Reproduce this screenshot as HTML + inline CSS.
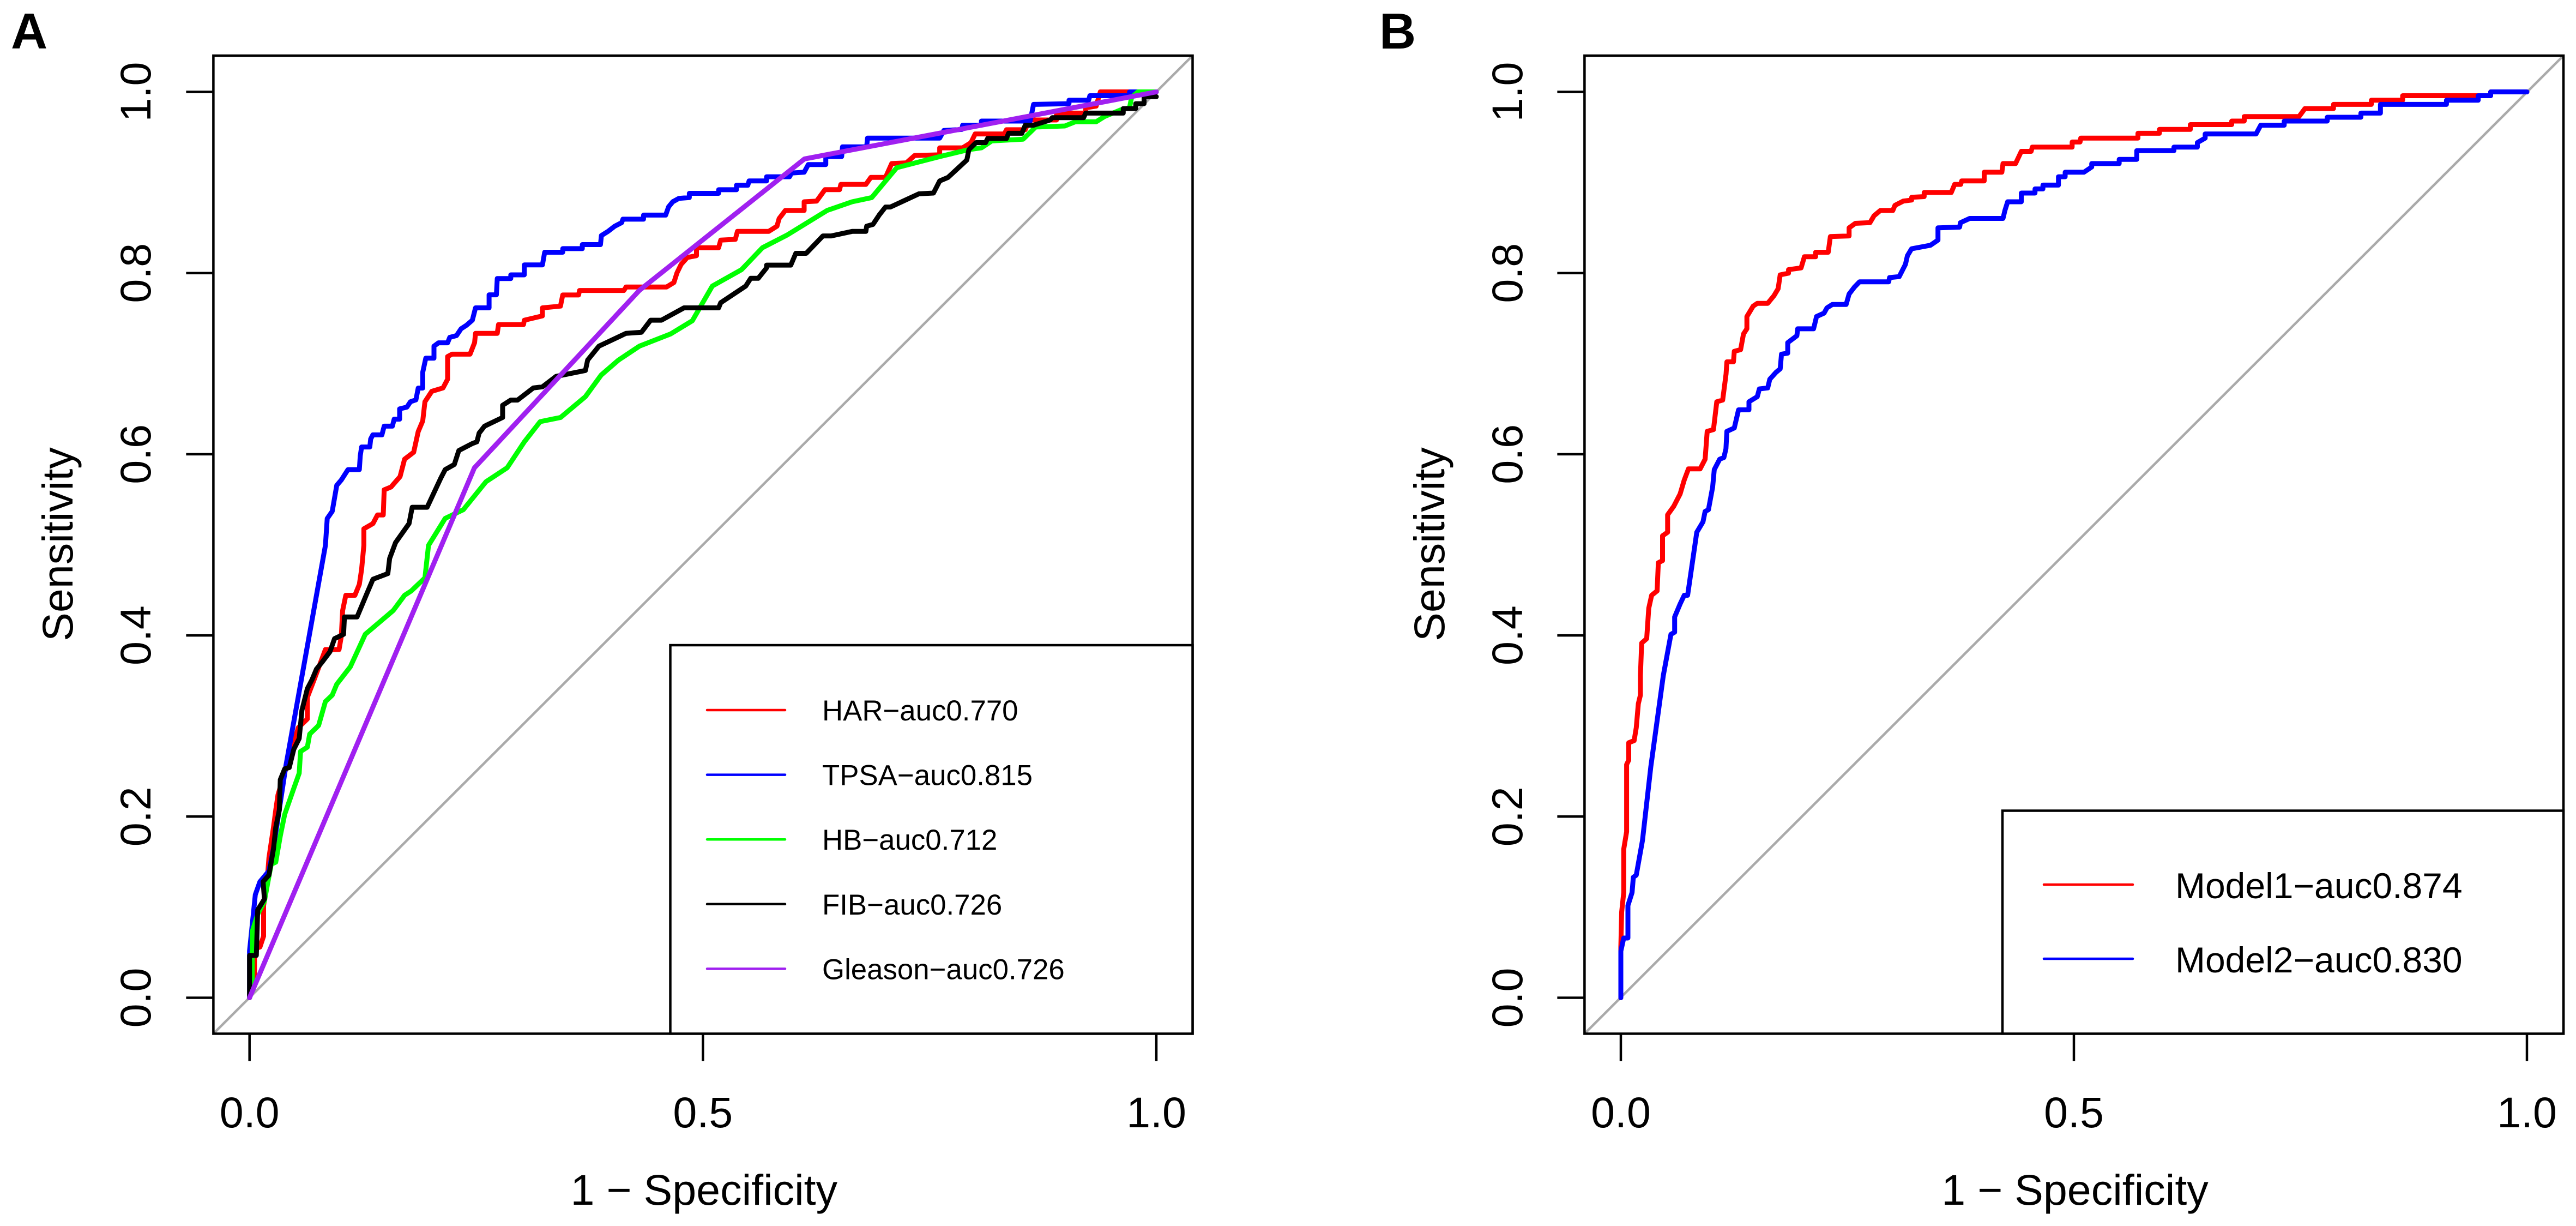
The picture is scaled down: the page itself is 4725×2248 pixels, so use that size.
<!DOCTYPE html>
<html lang="en">
<head>
<meta charset="utf-8">
<title>ROC curves</title>
<style>
html,body{margin:0;padding:0;background:#fff;}
svg{display:block;font-family:"Liberation Sans",Arial,sans-serif;}
</style>
</head>
<body>
<svg id="chart" xmlns="http://www.w3.org/2000/svg" width="4725" height="2248" viewBox="0 0 4725 2248">
<rect x="0" y="0" width="4725" height="2248" fill="#fff"/>
</svg>
<script>
const xTicks = [0, 0.5, 1];
const xTickLabels = ['0.0', '0.5', '1.0'];
const yTicks = [0, 0.2, 0.4, 0.6, 0.8, 1];
const yTickLabels = ['0.0', '0.2', '0.4', '0.6', '0.8', '1.0'];

const harFpr = [0,.0055,.0055,.0115,.0155,.0155,.019,.0214,.0264,.0289,.0314,.0538,.0638,.0638,.0712,.0837,.0987,.1012,.1027,.1062,.1162,.1211,.1236,.1261,.1261,.1361,.1411,.1475,.1485,.156,.166,.171,.181,.186,.191,.1934,.2009,.2134,.2184,.2184,.2233,.2432,.2482,.2492,.2732,.2746,.3021,.3031,.323,.323,.3429,.3454,.3629,.3639,.4128,.4152,.4598,.468,.4713,.4759,.4828,.4929,.4929,.5173,.5196,.5357,.538,.5725,.5817,.584,.5909,.6116,.6116,.6254,.6346,.6507,.6521,.6797,.6852,.7013,.7082,.7243,.7335,.7611,.7611,.7864,.7956,.8002,.8324,.8347,.8554,.86,.89,.8899,.9221,.9221,.9336,.9382,1];
const harTpr = [0,.0204,.054,.056,.068,.1018,.1234,.1545,.188,.2072,.224,.2982,.3078,.3317,.351,.3844,.3844,.3988,.4275,.4443,.4443,.4563,.473,.4994,.5177,.5235,.533,.533,.5607,.5638,.5753,.5945,.6022,.625,.6368,.6579,.6694,.6732,.6828,.7078,.7105,.7105,.7232,.7335,.7335,.7431,.7431,.748,.7527,.7616,.7635,.7758,.7758,.7808,.7808,.7846,.7846,.7896,.8,.8096,.8172,.8192,.828,.828,.8364,.8372,.846,.846,.8518,.8602,.8691,.8691,.8787,.8795,.8921,.8921,.8979,.8979,.9056,.9056,.9209,.9217,.9298,.9305,.9382,.9382,.944,.9536,.9536,.9582,.9582,.969,.969,.9766,.9766,.9824,.9843,1,1];

const tpsaFpr = [0,0,.0064,.0114,.0214,.0264,.0399,.0837,.0857,.0912,.0962,.1012,.1086,.1211,.1221,.1236,.1326,.1336,.136,.146,.1485,.1575,.1595,.1655,.1655,.1735,.1775,.1835,.186,.191,.191,.1944,.2034,.2034,.2084,.2184,.2208,.2283,.2333,.2393,.2457,.2492,.2642,.2642,.2722,.2732,.2881,.2881,.303,.303,.323,.3255,.3454,.3454,.367,.367,.387,.388,.3953,.4028,.4103,.4118,.4345,.4345,.4589,.4621,.4667,.4736,.485,.485,.5173,.5173,.537,.537,.5495,.5509,.5702,.5702,.5955,.5978,.6116,.6162,.6355,.6355,.653,.6539,.6806,.6815,.7611,.7657,.7855,.7864,.8071,.8071,.8609,.8646,.9037,.9037,.9253,.9267,.9704,.9704,1];
const tpsaTpr = [0,.0515,.1138,.128,.14,.165,.255,.4994,.529,.537,.5657,.5715,.583,.583,.5984,.608,.608,.6168,.6214,.6214,.631,.631,.6387,.6387,.65,.652,.658,.66,.673,.673,.6905,.706,.706,.7193,.723,.723,.729,.731,.7385,.7424,.748,.7616,.7616,.776,.776,.794,.794,.798,.798,.809,.809,.823,.823,.827,.827,.8314,.8314,.8414,.846,.8518,.8556,.8595,.8595,.864,.864,.873,.8787,.8825,.8833,.888,.888,.892,.892,.897,.897,.9017,.9017,.9063,.9063,.9105,.9113,.9198,.9198,.9286,.9286,.9394,.9394,.949,.949,.9574,.9585,.9632,.9632,.9678,.9678,.9862,.987,.9908,.9908,.9958,.9958,1,1];

const hbFpr = [0,.003,.003,.009,.0164,.0199,.0239,.0289,.0339,.0388,.0488,.0548,.0563,.0638,.0663,.0762,.0837,.0912,.0962,.1111,.1276,.1585,.171,.1784,.1934,.1974,.2158,.2358,.2607,.2841,.3031,.3205,.343,.3704,.3878,.4069,.4299,.4644,.4883,.5104,.5426,.5656,.5932,.6369,.6645,.6861,.7137,.7611,.7933,.8071,.8186,.8531,.8669,.8991,.9106,.9336,.9428,.9612,.9704,.9727,.9796,1];
const hbTpr = [0,.0204,.0731,.0922,.1066,.1258,.1473,.1497,.1785,.2024,.2312,.2479,.2719,.2767,.291,.3006,.327,.3341,.3461,.3653,.4012,.4275,.4443,.4491,.4635,.4994,.5292,.5388,.5696,.585,.6137,.636,.6406,.6636,.6874,.704,.7193,.7328,.7474,.7857,.8038,.828,.8422,.8691,.8787,.8833,.9163,.9286,.9363,.9382,.9459,.9478,.9612,.9624,.967,.967,.9728,.9804,.9824,.9939,1,1];

const fibFpr = [0,0,.0075,.009,.0164,.015,.0214,.0264,.0289,.0329,.0339,.0388,.0438,.0488,.0548,.0578,.0638,.0688,.0738,.0797,.0887,.0937,.1037,.1047,.1186,.1286,.1361,.1525,.1545,.161,.1759,.1794,.1959,.2108,.2158,.2258,.2308,.2457,.2507,.2532,.2592,.2791,.2791,.2881,.2956,.313,.323,.338,.3704,.3729,.3853,.4152,.4322,.4423,.4543,.4791,.5173,.5196,.5472,.5527,.561,.5702,.5702,.5969,.6024,.6139,.6323,.6415,.6645,.6797,.6806,.6875,.6944,.7013,.7068,.7381,.7542,.7611,.7703,.791,.7933,.8011,.8117,.814,.8347,.837,.8517,.8554,.8646,.883,.8853,.9198,.9221,.9635,.9635,.9773,.9773,.9865,.9865,1];
const fibTpr = [0,.0467,.0467,.097,.109,.1282,.1354,.1641,.1881,.2072,.2407,.2527,.2541,.2743,.2862,.3174,.3413,.3509,.3629,.3701,.382,.3964,.4012,.4204,.4204,.4443,.462,.4683,.485,.5024,.5235,.5415,.5415,.5734,.583,.5887,.6041,.6118,.6137,.6233,.631,.6406,.654,.6598,.6598,.6732,.6744,.6859,.6925,.704,.7193,.7335,.7347,.748,.748,.7616,.7616,.7673,.7857,.7942,.7942,.8057,.8088,.8088,.8218,.8218,.841,.841,.846,.846,.8518,.8537,.8641,.8729,.8729,.8875,.8883,.9017,.9056,.9248,.9363,.944,.944,.9486,.9486,.9543,.9543,.9632,.9632,.969,.9716,.9716,.9766,.9766,.9816,.9816,.987,.987,.9947,.9947];

const gleasonFpr = [0,.248,.43,.612,1];
const gleasonTpr = [0,.585,.781,.926,1];

const model1Fpr = [0,0,.0009,.0032,.0032,.0064,.0064,.0087,.0087,.0147,.017,.0193,.0216,.0216,.023,.0285,.0308,.034,.04,.0414,.046,.046,.0516,.0516,.0585,.0654,.07,.0746,.0875,.093,.0953,.1022,.1059,.1124,.1161,.117,.1243,.1252,.1322,.1354,.1391,.1391,.146,.1506,.1621,.169,.1736,.1759,.1851,.1851,.1989,.2026,.215,.215,.2289,.2312,.2519,.2519,.2588,.2749,.2795,.2864,.3002,.3025,.3118,.321,.321,.3348,.3348,.3647,.3684,.375,.3762,.401,.401,.4205,.4218,.4356,.442,.4528,.4541,.4981,.4981,.5068,.5076,.5707,.5707,.5944,.5944,.6285,.6285,.6742,.6742,.688,.688,.7485,.755,.7865,.7865,.8283,.8283,.8628,.8628,.96,.96,1];
const model1Tpr = [0,.0563,.0946,.1162,.164,.1833,.2575,.2623,.2815,.2839,.2982,.3246,.3341,.3557,.3916,.3964,.4299,.4443,.4491,.4802,.4826,.51,.5139,.5331,.5427,.5561,.5715,.5838,.5838,.5945,.6252,.6272,.6579,.6598,.6886,.702,.702,.7136,.7155,.7328,.7385,.752,.7635,.7666,.7666,.775,.7827,.798,.7999,.8038,.8057,.818,.818,.823,.823,.8403,.841,.8499,.8549,.8556,.8633,.8691,.8691,.8748,.8795,.8806,.8837,.8844,.889,.889,.8979,.8979,.9017,.9017,.9113,.9113,.9209,.9209,.9344,.9344,.939,.939,.9447,.9447,.949,.949,.9543,.9543,.9586,.9586,.9639,.9639,.9678,.9678,.9728,.9728,.9816,.9816,.9862,.9862,.9908,.9908,.9958,.9958,1,1];

const model2Fpr = [0,0,.0032,.0078,.0078,.0124,.0138,.017,.0239,.0331,.0469,.0553,.0594,.0594,.0654,.07,.0737,.0838,.0907,.093,.0967,.1013,.1031,.1091,.1137,.116,.117,.1252,.1299,.1414,.1414,.1506,.1529,.1621,.1644,.1713,.1759,.1773,.1842,.1842,.1943,.1952,.2127,.216,.2243,.2275,.2335,.2487,.2519,.2579,.2634,.2956,.2966,.3072,.3141,.3163,.3209,.3417,.35,.35,.3739,.3748,.3851,.4218,.4239,.4269,.442,.442,.4571,.4571,.4658,.4658,.483,.483,.4904,.4904,.5111,.5197,.5197,.55,.55,.5694,.5694,.6104,.6104,.6363,.6363,.6449,.6449,.701,.7062,.7321,.7321,.7796,.7796,.8167,.8167,.8383,.8383,.9112,.9112,.9462,.9462,.96,.96,1];
const model2Tpr = [0,.0515,.0659,.0659,.1018,.1162,.133,.1354,.1737,.2551,.3557,.4012,.4036,.4204,.4347,.4443,.4443,.5139,.5254,.5369,.5388,.5638,.583,.5945,.5964,.6061,.6252,.629,.649,.649,.6579,.6636,.6721,.6732,.6828,.6905,.6943,.7105,.7116,.7232,.7308,.7385,.7385,.752,.7558,.7616,.7654,.7654,.7769,.7846,.7903,.7903,.795,.7961,.8096,.8192,.8268,.8307,.8364,.8499,.8507,.8556,.8603,.8603,.8691,.8787,.8787,.8883,.8883,.8929,.8929,.8971,.8971,.9063,.9063,.9113,.9113,.9171,.9209,.9209,.9255,.9255,.9351,.9351,.939,.939,.944,.949,.9536,.9536,.9632,.9632,.9678,.9678,.972,.972,.9766,.9766,.9862,.9862,.9908,.9908,.9958,.9958,1,1];

const panelASeries = ['HAR', 'TPSA', 'HB', 'FIB', 'Gleason'];
const panelAColors = ['#ff0000', '#0000ff', '#00ff00', '#000000', '#a020f0'];
const panelAAuc = ['0.770', '0.815', '0.712', '0.726', '0.726'];
const panelBSeries = ['Model1', 'Model2'];
const panelBColors = ['#ff0000', '#0000ff'];
const panelBAuc = ['0.874', '0.830'];

const svg = document.getElementById('chart');
const NS = 'http://www.w3.org/2000/svg';

function make(parent, tag, attrs, text) {
  const el = document.createElementNS(NS, tag);
  for (const k in attrs) el.setAttribute(k, attrs[k]);
  if (text !== undefined) el.textContent = text;
  parent.appendChild(el);
  return el;
}

function drawPanel(cfg) {
  const xScale = v => cfg.x0 + (cfg.x1 - cfg.x0) * v;
  const yScale = v => cfg.y0 + (cfg.y1 - cfg.y0) * v;

  const group = make(svg, 'g', {});
  
  

  const letter = make(group, 'text', {x: cfg.letterX, y: 89, 'font-size': 93, 'font-weight': 'bold', fill: '#000'}, cfg.letter);
  
  

  const diagonal = make(group, 'line', {x1: cfg.left, y1: cfg.bottom, x2: cfg.right, y2: cfg.top, stroke: '#aaaaaa', 'stroke-width': 4.5});
  
  

  cfg.curves.forEach((c, i) => {
    const n = Math.min(c.fpr.length, c.tpr.length);
    let d = '';
    for (let k = 0; k < n; k++) {
      d += (k ? 'L' : 'M') + xScale(c.fpr[k]).toFixed(1) + ' ' + yScale(c.tpr[k]).toFixed(1);
    }
    const path = make(group, 'path', {d: d, fill: 'none', stroke: cfg.colors[i], 'stroke-width': 9, 'stroke-linejoin': 'round', 'stroke-linecap': 'round'});
    
    
  });

  const frame = make(group, 'rect', {x: cfg.left, y: cfg.top, width: cfg.right - cfg.left, height: cfg.bottom - cfg.top, fill: 'none', stroke: '#000', 'stroke-width': 4.5});
  
  

  xTicks.forEach((v, i) => {
    const tick = make(group, 'line', {x1: xScale(v), x2: xScale(v), y1: cfg.bottom, y2: cfg.bottom + 50, stroke: '#000', 'stroke-width': 4.5});
    
    
    const label = make(group, 'text', {x: xScale(v), y: 2067, 'font-size': 79, 'text-anchor': 'middle', fill: '#000'}, xTickLabels[i]);
    
    
  });

  yTicks.forEach((v, i) => {
    const tick = make(group, 'line', {x1: cfg.left - 50, x2: cfg.left, y1: yScale(v), y2: yScale(v), stroke: '#000', 'stroke-width': 4.5});
    
    
    const label = make(group, 'text', {x: 0, y: 0, transform: 'translate(' + cfg.yTickBase + ' ' + yScale(v) + ') rotate(-90)', 'font-size': 79, 'text-anchor': 'middle', fill: '#000'}, yTickLabels[i]);
    
    
  });

  const xTitle = make(group, 'text', {x: xScale(0.5) + 2, y: 2209, 'font-size': 79, 'text-anchor': 'middle', fill: '#000'}, '1 \u2212 Specificity');
  
  

  const yTitle = make(group, 'text', {x: 0, y: 0, transform: 'translate(' + cfg.yTitleBase + ' 998) rotate(-90)', 'font-size': 79, 'text-anchor': 'middle', fill: '#000'}, 'Sensitivity');
  
  

  const legend = make(group, 'g', {});
  
  
  const box = make(legend, 'rect', {x: cfg.legend.left, y: cfg.legend.top, width: cfg.right - cfg.legend.left, height: cfg.bottom - cfg.legend.top, fill: '#fff', stroke: '#000', 'stroke-width': 4.5});
  
  
  cfg.names.forEach((name, i) => {
    const ly = cfg.legend.firstY + i * cfg.legend.stepY;
    const swatch = make(legend, 'line', {x1: cfg.legend.lineX0, x2: cfg.legend.lineX1, y1: ly, y2: ly, stroke: cfg.colors[i], 'stroke-width': 4.5, 'stroke-linecap': 'round'});
    
    
    const entry = make(legend, 'text', {x: cfg.legend.textX, y: ly + cfg.legend.baseOffset, 'font-size': cfg.legend.fontSize, fill: '#000'}, name + '\u2212auc' + cfg.auc[i]);
    
    
  });
}

drawPanel({
  id: 'a', letter: 'A', letterX: 20,
  left: 391.4, right: 2187.5, top: 102, bottom: 1895.4,
  x0: 457.7, x1: 2121, y0: 1829.5, y1: 168.5,
  yTickBase: 276, yTitleBase: 133,
  names: panelASeries, colors: panelAColors, auc: panelAAuc,
  curves: [
    {fpr: harFpr, tpr: harTpr},
    {fpr: tpsaFpr, tpr: tpsaTpr},
    {fpr: hbFpr, tpr: hbTpr},
    {fpr: fibFpr, tpr: fibTpr},
    {fpr: gleasonFpr, tpr: gleasonTpr}
  ],
  legend: {left: 1229.5, top: 1183, firstY: 1302, stepY: 118.6, lineX0: 1297, lineX1: 1440, textX: 1508, baseOffset: 19, fontSize: 52.8}
});

drawPanel({
  id: 'b', letter: 'B', letterX: 2530,
  left: 2906.4, right: 4702, top: 102, bottom: 1895.4,
  x0: 2973, x1: 4635, y0: 1829.5, y1: 168.5,
  yTickBase: 2792, yTitleBase: 2649,
  names: panelBSeries, colors: panelBColors, auc: panelBAuc,
  curves: [
    {fpr: model1Fpr, tpr: model1Tpr},
    {fpr: model2Fpr, tpr: model2Tpr}
  ],
  legend: {left: 3673, top: 1486.5, firstY: 1622, stepY: 136, lineX0: 3749, lineX1: 3912, textX: 3990, baseOffset: 25, fontSize: 66}
});
</script>
</body>
</html>
